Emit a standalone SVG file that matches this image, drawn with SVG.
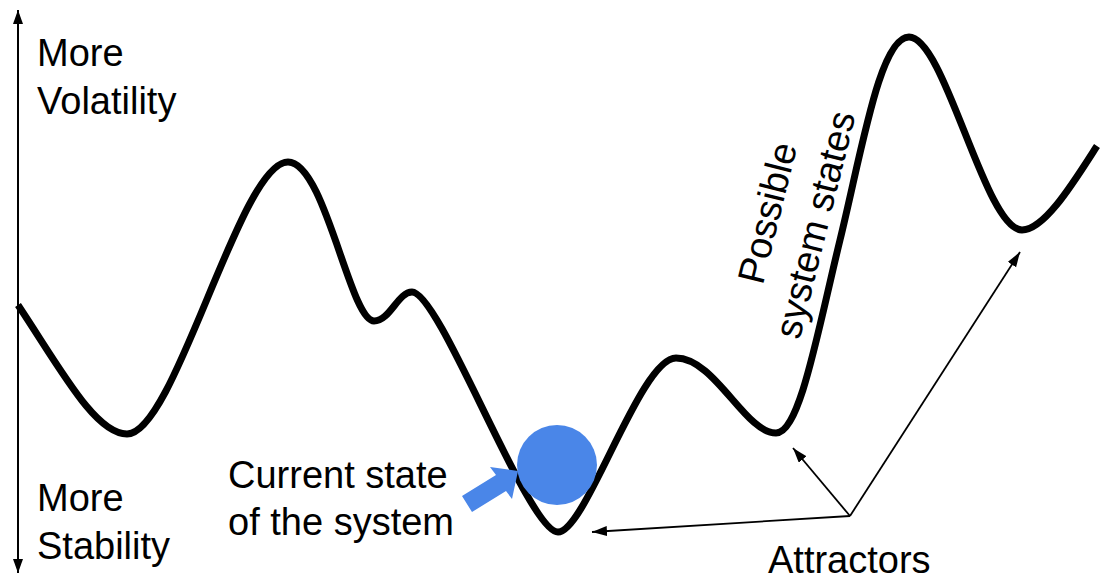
<svg xmlns="http://www.w3.org/2000/svg" width="1113" height="586" viewBox="0 0 1113 586">
<style>
.lbl{font-family:"Liberation Sans",Arial,sans-serif;font-size:38px;fill:#000}
.thin{stroke:#000;stroke-width:1.8;fill:none}
</style>
<defs>
<marker id="ah" markerUnits="userSpaceOnUse" markerWidth="16" markerHeight="12" refX="15" refY="5" orient="auto">
<path d="M0,0 L15,5 L0,10 Z" fill="#000"/>
</marker>
<marker id="axh" markerUnits="userSpaceOnUse" markerWidth="16" markerHeight="12" refX="14" refY="5" orient="auto">
<path d="M0,0 L14,5 L0,10 Z" fill="#000"/>
</marker>
</defs>
<rect width="1113" height="586" fill="#fff"/>
<g id="axis">
<line x1="18" y1="290" x2="18" y2="10" stroke="#000" stroke-width="2" marker-end="url(#axh)"/>
<line x1="18" y1="290" x2="18" y2="573" stroke="#000" stroke-width="2" marker-end="url(#axh)"/>
<text class="lbl" x="37" y="66">More</text>
<text class="lbl" x="37" y="114">Volatility</text>
<text class="lbl" x="37" y="511">More</text>
<text class="lbl" x="37" y="559">Stability</text>
</g>
<g id="landscape">
<path d="M18,305 C60,368 95,434 127,434 C175,434 240,162 288,162 C325,162 350,321 374,321 C390,321 398,292 412,292 C440,292 528,532 558,532 C586,532 640,358 676,358 C715,358 745,433 776,433 C800,433 818,330 840,240 C862,150 880,37 909,37 C945,37 985,230 1022,230 C1045,230 1075,180 1097,146" fill="none" stroke="#000" stroke-width="7" stroke-linejoin="round"/>
<g transform="translate(780,216) rotate(-76)">
<text class="lbl" x="0" y="0" text-anchor="middle">Possible</text>
<text class="lbl" x="0" y="49" text-anchor="middle">system states</text>
</g>
</g>
<g id="current-state">
<circle cx="557" cy="465" r="40" fill="#4A86E8"/>
<polygon points="462,496 496,475 490,467 518,471 512,499 506,491 472,512" fill="#4A86E8"/>
<text class="lbl" x="228" y="488">Current state</text>
<text class="lbl" x="228" y="535">of the system</text>
</g>
<g id="attractors">
<text class="lbl" x="768" y="573">Attractors</text>
</g>
<g id="connectors">
<line class="thin" x1="850" y1="516" x2="592" y2="532" marker-end="url(#ah)"/>
<line class="thin" x1="850" y1="516" x2="793" y2="448" marker-end="url(#ah)"/>
<line class="thin" x1="850" y1="516" x2="1020" y2="252" marker-end="url(#ah)"/>
</g>
</svg>
